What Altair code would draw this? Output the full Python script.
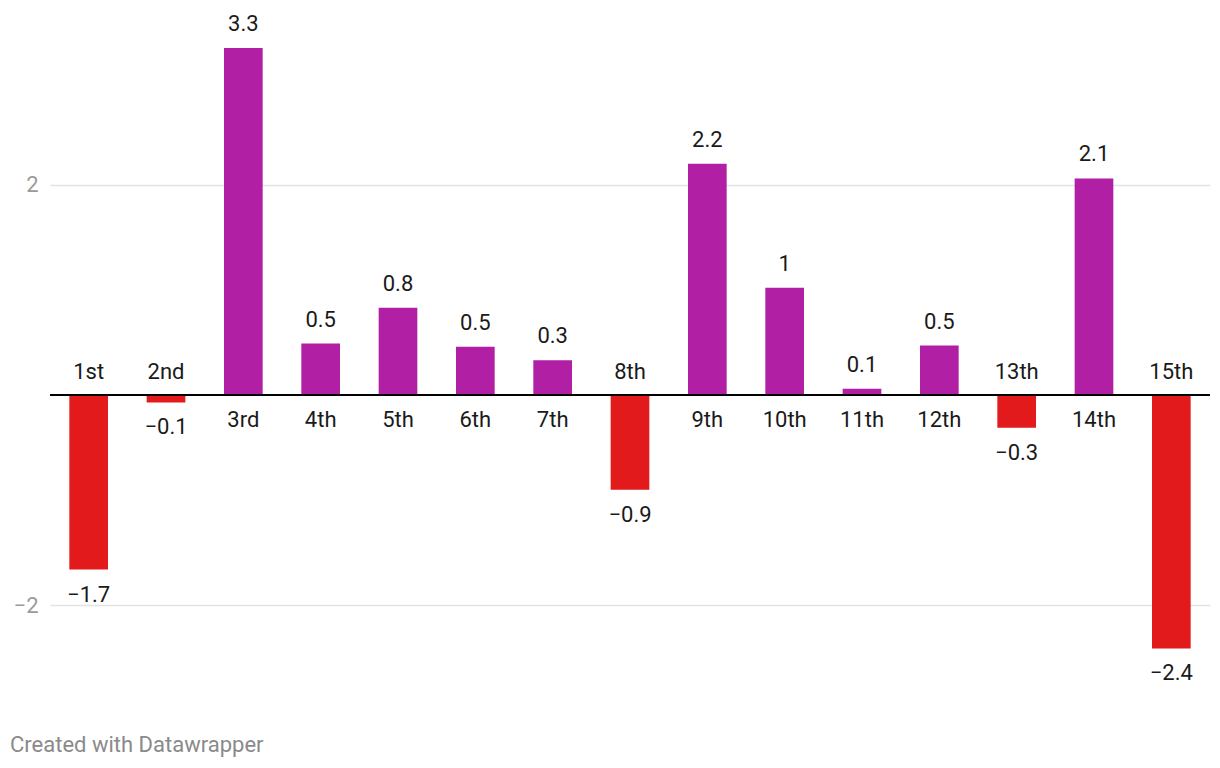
import altair as alt
import pandas as pd

categories = ["1st", "2nd", "3rd", "4th", "5th", "6th", "7th", "8th",
              "9th", "10th", "11th", "12th", "13th", "14th", "15th"]
values = [-1.66, -0.07, 3.30, 0.49, 0.83, 0.46, 0.33, -0.90,
          2.20, 1.02, 0.06, 0.47, -0.31, 2.06, -2.41]

df = pd.DataFrame({"cat": categories, "value": values})
df["sign"] = ["pos" if v >= 0 else "neg" for v in values]

FONT = "Roboto"
xenc = alt.X("cat:N", sort=categories, axis=None,
             scale=alt.Scale(paddingInner=0.5, paddingOuter=0.25))
yscale = alt.Scale(domain=[-2.9, 3.5], nice=False, zero=False)

base = alt.Chart(df)

bars = base.mark_bar().encode(
    x=xenc,
    y=alt.Y("value:Q", scale=yscale, title=None,
            axis=alt.Axis(values=[-2, 2], grid=True, gridColor="#e3e3e3",
                          gridWidth=1.5, domain=False, ticks=False,
                          labelPadding=12, labelColor="#9a9a9a",
                          labelFontSize=22, labelFont=FONT, format="~f")),
    y2=alt.datum(0),
    color=alt.Color("sign:N", legend=None,
                    scale=alt.Scale(domain=["pos", "neg"],
                                    range=["#b11fa5", "#e31a1c"])),
)

zero = base.mark_rule(color="#000000", strokeWidth=2).encode(y=alt.datum(0))

pos = base.transform_filter("datum.value >= 0")
neg = base.transform_filter("datum.value < 0")

txt = dict(font=FONT, fontSize=22, color="#1a1a1a", baseline="middle")

val_pos = pos.mark_text(dy=-24, **txt).encode(
    x=xenc, y=alt.Y("value:Q", scale=yscale),
    text=alt.Text("value:Q", format=".1~f"))
val_neg = neg.mark_text(dy=25, **txt).encode(
    x=xenc, y=alt.Y("value:Q", scale=yscale),
    text=alt.Text("value:Q", format=".1~f"))

cat_pos = pos.mark_text(dy=25, **txt).encode(
    x=xenc, y=alt.datum(0), text="cat:N")
cat_neg = neg.mark_text(dy=-23, **txt).encode(
    x=xenc, y=alt.datum(0), text="cat:N")

chart = alt.layer(bars, zero, val_pos, val_neg, cat_pos, cat_neg).properties(
    width=1160, height=673,
    autosize=alt.AutoSizeParams(type="none"),
    padding={"left": 42, "top": 19, "right": 2, "bottom": 60},
    title=alt.TitleParams("Created with Datawrapper", orient="bottom",
                          anchor="start", frame="group", dx=-40, offset=35,
                          fontSize=22, font=FONT, color="#8a8a8a",
                          fontWeight="normal"),
).configure(background="white").configure_view(strokeWidth=0, stroke="transparent")

chart.save("out.html", embed_options={"renderer": "svg", "actions": False})
